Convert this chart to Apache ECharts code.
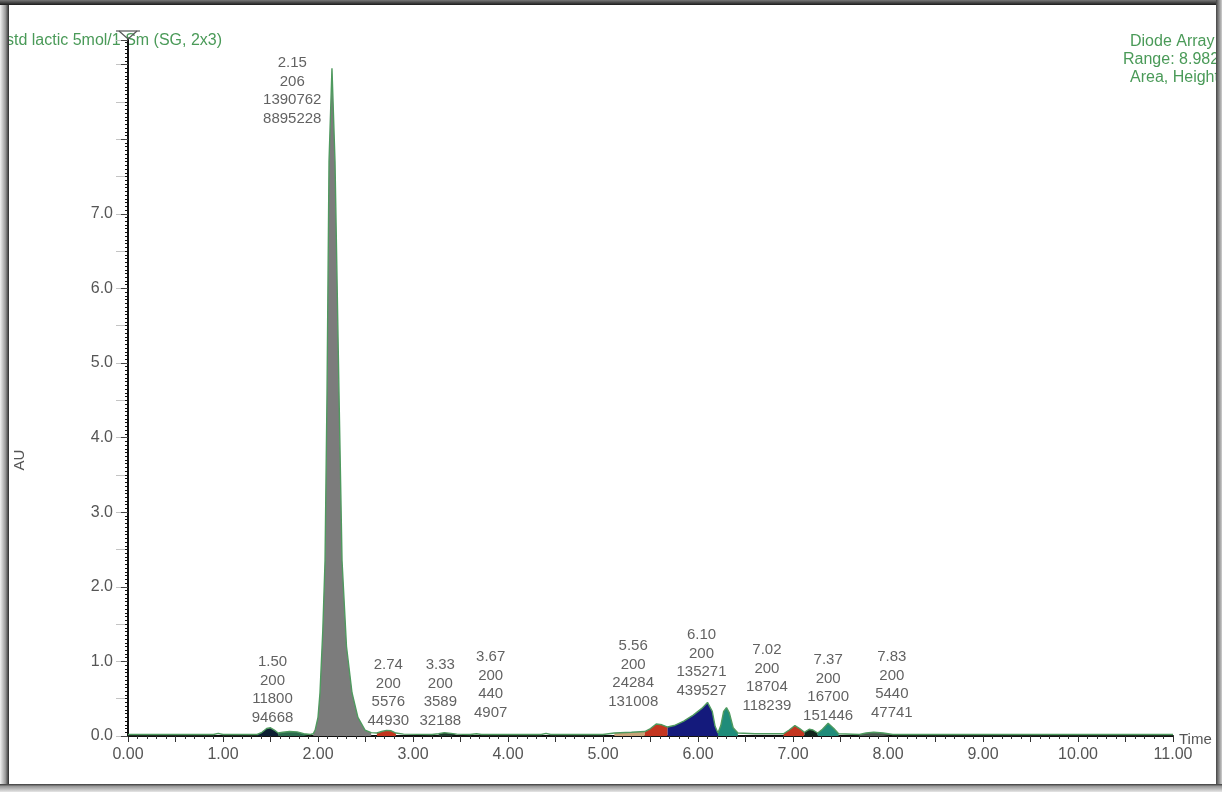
<!DOCTYPE html>
<html>
<head>
<meta charset="utf-8">
<title>std lactic chromatogram</title>
<script src="https://cdn.jsdelivr.net/npm/echarts@6/dist/echarts.min.js"></script>
<style>
  html, body { margin: 0; padding: 0; background: #fff; }
  #chart { width: 1222px; height: 792px; }
</style>
</head>
<body>
<div id="chart"></div>
<script>
// detector trace: [retention time (min), absorbance (AU)]
const trace = [
  [0.00, 0.02], [0.50, 0.02], [0.90, 0.02], [0.95, 0.035], [1.00, 0.02],
  [1.36, 0.02], [1.41, 0.05], [1.46, 0.10], [1.50, 0.11], [1.54, 0.08], [1.58, 0.04],
  [1.63, 0.05], [1.70, 0.06], [1.78, 0.055], [1.85, 0.03], [1.92, 0.02],
  [1.95, 0.03], [1.97, 0.08], [2.00, 0.25], [2.021, 0.58], [2.05, 1.4], [2.074, 2.35],
  [2.095, 4.6], [2.116, 7.7], [2.147, 8.95], [2.179, 7.7], [2.221, 4.6], [2.253, 2.35],
  [2.30, 1.2], [2.358, 0.58], [2.42, 0.25], [2.495, 0.08], [2.56, 0.045],
  [2.62, 0.04], [2.67, 0.06], [2.72, 0.075], [2.77, 0.07], [2.82, 0.04], [2.90, 0.025],
  [3.20, 0.02], [3.27, 0.03], [3.33, 0.045], [3.40, 0.035], [3.46, 0.025],
  [3.60, 0.02], [3.67, 0.03], [3.72, 0.02], [4.35, 0.02], [4.40, 0.035], [4.45, 0.02],
  [5.00, 0.02], [5.12, 0.04], [5.30, 0.05], [5.44, 0.06], [5.50, 0.10], [5.56, 0.16],
  [5.62, 0.15], [5.68, 0.12], [5.75, 0.14], [5.85, 0.20], [5.95, 0.28], [6.04, 0.37],
  [6.10, 0.45], [6.12, 0.46], [6.15, 0.33], [6.18, 0.13], [6.21, 0.04], [6.24, 0.14],
  [6.27, 0.33], [6.30, 0.38], [6.33, 0.31], [6.37, 0.11], [6.42, 0.04], [6.60, 0.03],
  [6.90, 0.03], [6.96, 0.08], [7.02, 0.14], [7.07, 0.10], [7.12, 0.05], [7.17, 0.09],
  [7.21, 0.08], [7.26, 0.04], [7.31, 0.09], [7.37, 0.17], [7.43, 0.10], [7.48, 0.03],
  [7.70, 0.02], [7.77, 0.04], [7.85, 0.05], [7.95, 0.04], [8.05, 0.02],
  [9.00, 0.02], [10.00, 0.02], [11.00, 0.02]
];

// peak table (retention time, wavelength, height, area)
const peakRT = [1.50, 2.15, 2.74, 3.33, 3.67, 5.56, 6.10, 7.02, 7.37, 7.83];
const peakWavelength = [200, 206, 200, 200, 200, 200, 200, 200, 200, 200];
const peakHeight = [11800, 1390762, 5576, 3589, 440, 24284, 135271, 18704, 16700, 5440];
const peakArea = [94668, 8895228, 44930, 32188, 4907, 131008, 439527, 118239, 151446, 47741];

// integrated (shaded) windows, in minutes
const fillStart = [1.36, 1.58, 1.95, 2.62, 3.27, 5.12, 5.44, 5.68, 6.21, 6.90, 7.12, 7.26, 7.70];
const fillEnd   = [1.58, 1.92, 2.56, 2.82, 3.46, 5.44, 5.68, 6.21, 6.42, 7.12, 7.26, 7.48, 8.05];

// styling
const fillColors = ['#0d1f33', '#2b6b4e', '#7c7c7c', '#c4351f', '#1d3a2c', '#c9a377', '#c4351f',
  '#141a7c', '#1f8c7a', '#c4351f', '#12261d', '#1f8c7a', '#4a5a50'];
const labelOffsets = [[2, -46], [-40, -645], [0, -43], [-4, -43], [14, -51], [-23, -62],
  [-6, -73], [-28, -58], [0, -48], [20, -51]];
const font = 'Liberation Sans';
const green = '#4a9a58';

const chart = echarts.init(document.getElementById('chart'));

const fillSeries = fillStart.map((s, i) => ({
  type: 'line',
  data: trace.filter(p => p[0] >= s && p[0] <= fillEnd[i]),
  symbol: 'none',
  silent: true,
  lineStyle: { width: 0 },
  areaStyle: { color: fillColors[i], opacity: 1 },
  z: 2
}));

const labelData = peakRT.map((rt, i) => ({
  value: [rt, 0],
  label: { offset: labelOffsets[i] }
}));

chart.setOption({
  animation: false,
  backgroundColor: '#fff',
  grid: { left: 128, right: 49, top: 40, bottom: 56, outerBoundsMode: 'none' },
  xAxis: {
    type: 'value', min: 0, max: 11, interval: 0.5,
    name: 'Time', nameLocation: 'end', nameGap: 6,
    nameTextStyle: { fontFamily: font, fontSize: 15, color: '#555', verticalAlign: 'top', padding: [-4, 0, 0, 0] },
    axisLine: { lineStyle: { color: '#111', width: 2 } },
    axisTick: { show: true, length: 6, lineStyle: { color: '#333' } },
    minorTick: { show: true, splitNumber: 5, length: 3, lineStyle: { color: '#333' } },
    splitLine: { show: false },
    axisLabel: {
      fontFamily: font, fontSize: 16, color: '#555', margin: 11,
      formatter: v => Number.isInteger(v) ? v.toFixed(2) : ''
    }
  },
  yAxis: [{
    type: 'value', min: 0, max: 9.33, interval: 1, position: 'left',
    axisLine: { show: true, lineStyle: { color: '#111', width: 2 } },
    axisTick: { show: true, length: 7, lineStyle: { color: '#444' } },
    minorTick: { show: true, splitNumber: 20, length: 3, lineStyle: { color: '#111' } },
    splitLine: { show: false },
    axisLabel: {
      fontFamily: font, fontSize: 16, color: '#555', margin: 15,
      formatter: v => v <= 7 ? v.toFixed(1) : ''
    },
    z: 3
  }, {
    type: 'value', min: 0, max: 9.33, interval: 0.5, position: 'left', offset: 0,
    axisLine: { show: false },
    axisTick: { show: true, length: 12, lineStyle: { color: '#c4c4c4' } },
    axisLabel: { show: false },
    splitLine: { show: false },
    z: 1
  }],
  series: [
    ...fillSeries,
    {
      type: 'line',
      data: trace,
      symbol: 'none',
      silent: true,
      lineStyle: { color: '#4f9a5f', width: 1.4 },
      z: 3
    },
    {
      type: 'scatter',
      data: labelData,
      symbolSize: 0,
      silent: true,
      z: 4,
      label: {
        show: true,
        position: 'inside',
        fontFamily: font,
        fontSize: 15,
        lineHeight: 18.5,
        color: '#3a3a3a',
        align: 'center',
        verticalAlign: 'middle',
        formatter: p => {
          const i = p.dataIndex;
          return [peakRT[i].toFixed(2), peakWavelength[i], peakHeight[i], peakArea[i]].join('\n');
        }
      }
    }
  ],
  graphic: [
    { type: 'text', left: 6, top: 33, silent: true,
      style: { text: 'std lactic 5mol/1 Sm (SG, 2x3)', font: '16px ' + font, fill: green } },
    { type: 'text', x: 1130, y: 42, silent: true,
      style: { text: 'Diode Array', font: '16px ' + font, fill: green, verticalAlign: 'middle' } },
    { type: 'text', x: 1123, y: 60, silent: true,
      style: { text: 'Range: 8.982', font: '16px ' + font, fill: green, verticalAlign: 'middle' } },
    { type: 'text', x: 1130, y: 78, silent: true,
      style: { text: 'Area, Height', font: '16px ' + font, fill: green, verticalAlign: 'middle' } },
    { type: 'text', x: 20, y: 460, rotation: Math.PI / 2, silent: true,
      style: { text: 'AU', font: '15px ' + font, fill: '#555', align: 'center', verticalAlign: 'middle' } },
    // axis end marker at the top of the AU axis
    { type: 'polyline', silent: true, shape: { points: [[116, 31], [140, 31]] },
      style: { stroke: '#555', lineWidth: 1.2, fill: null } },
    { type: 'polyline', silent: true, shape: { points: [[119, 31], [128, 39], [137, 31]] },
      style: { stroke: '#555', lineWidth: 1.2, fill: null } },
    // window frame
    { type: 'rect', z: 100, silent: true, shape: { x: 0, y: 0, width: 9, height: 792 },
      style: { fill: new echarts.graphic.LinearGradient(0, 0, 1, 0, [
        { offset: 0, color: '#f2f2f2' }, { offset: 0.6, color: '#9a9a9a' }, { offset: 1, color: '#2a2a2a' }]) } },
    { type: 'rect', z: 100, silent: true, shape: { x: 0, y: 0, width: 1222, height: 5 },
      style: { fill: new echarts.graphic.LinearGradient(0, 0, 0, 1, [
        { offset: 0, color: '#777' }, { offset: 1, color: '#1a1a1a' }]) } },
    { type: 'rect', z: 100, silent: true, shape: { x: 1216, y: 0, width: 6, height: 792 },
      style: { fill: new echarts.graphic.LinearGradient(0, 0, 1, 0, [
        { offset: 0, color: '#444' }, { offset: 1, color: '#cfcfcf' }]) } },
    { type: 'rect', z: 100, silent: true, shape: { x: 0, y: 784, width: 1222, height: 8 },
      style: { fill: new echarts.graphic.LinearGradient(0, 0, 0, 1, [
        { offset: 0, color: '#3a3a3a' }, { offset: 0.3, color: '#999' }, { offset: 1, color: '#e6e6e6' }]) } }
  ]
});
</script>
</body>
</html>
